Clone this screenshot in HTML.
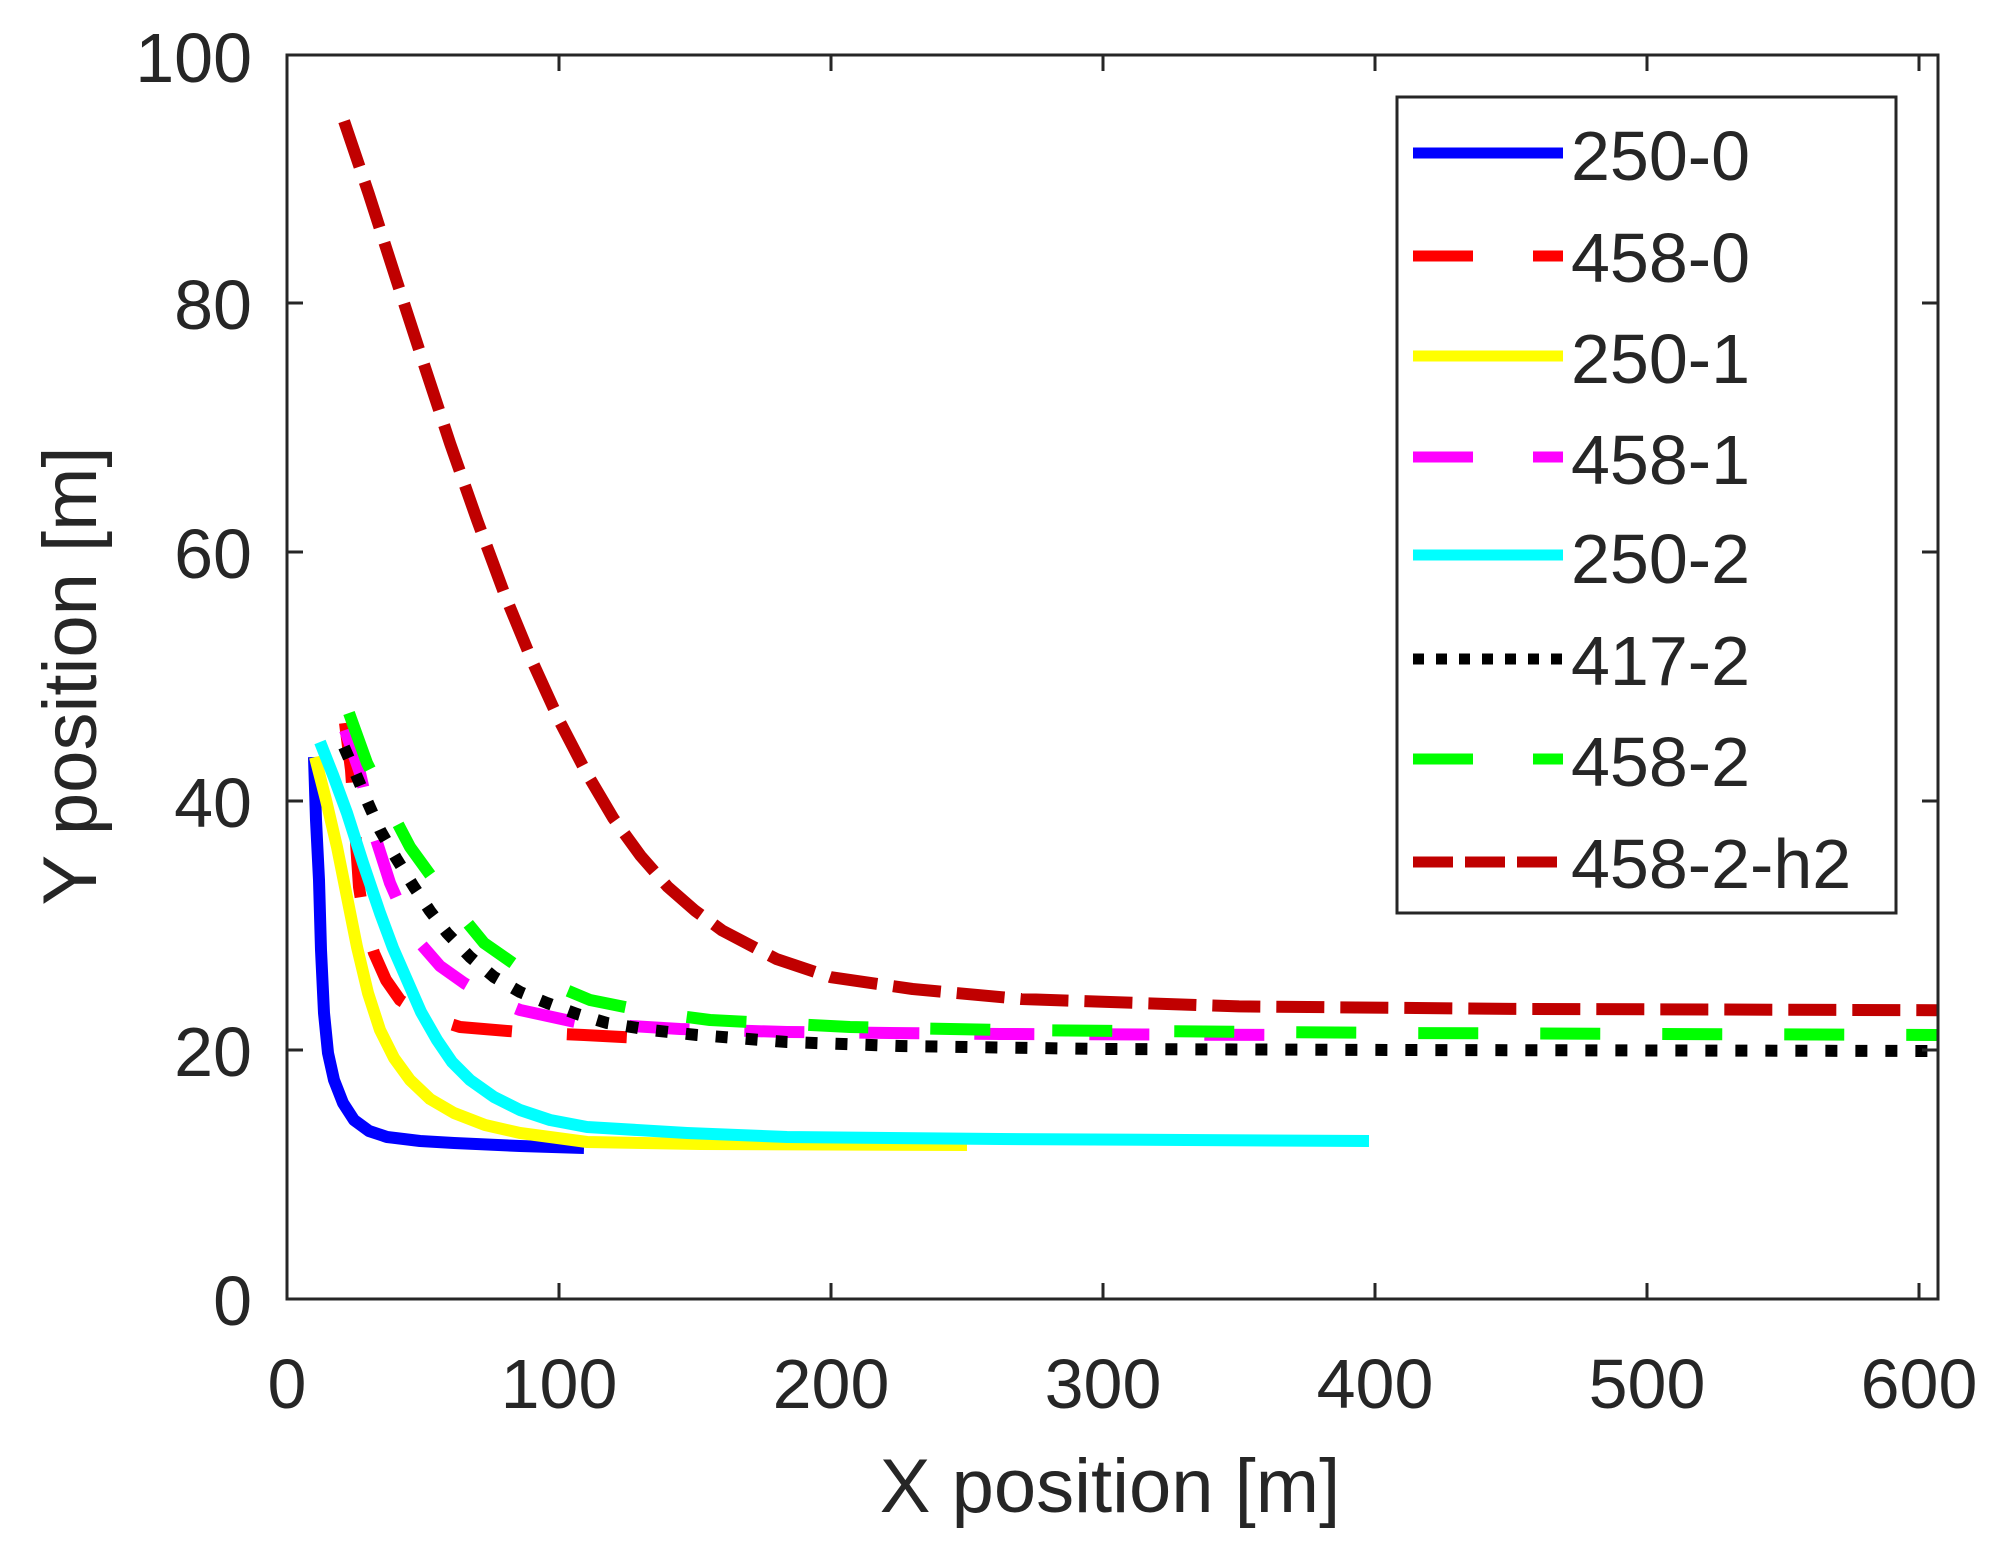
<!DOCTYPE html>
<html><head><style>
html,body{margin:0;padding:0;background:#fff;}
svg{display:block;}
text{font-family:"Liberation Sans",Arial,sans-serif;fill:#262626;}
</style></head><body>
<svg width="2000" height="1556" viewBox="0 0 2000 1556" xmlns="http://www.w3.org/2000/svg">
<defs><clipPath id="c"><rect x="287" y="55" width="1651" height="1244"/></clipPath></defs>
<rect width="2000" height="1556" fill="#fff"/>
<g clip-path="url(#c)" fill="none" stroke-width="12" stroke-linejoin="round">
<polyline stroke="#0000ff" points="314,757 316,820 319,880 321,950 324,1013 328,1053 334,1080 343,1103 354,1120 369,1131 387,1137 420,1141 454,1143 520,1146 584,1148"/>
<polyline stroke="#ff0000" stroke-dasharray="60,55" points="345,723 351,770 354,813 359,887 365,925 374,953 386,980 400,1000 425,1016 460,1027 520,1032 584,1035 640,1038"/>
<polyline stroke="#ffff00" points="315,757 326,800 337,847 357,947 368,993 380,1030 394,1058 410,1080 430,1099 454,1113 485,1125 520,1133 587,1142 700,1144 967,1145"/>
<polyline stroke="#ff00ff" stroke-dasharray="60,55" points="345,730 360,773 374,833 390,883 404,915 420,943 440,966 464,983 490,998 520,1010 580,1023 680,1029 787,1032 1000,1034 1293,1035"/>
<polyline stroke="#00ffff" points="320,742 333,775 347,813 363,863 380,913 393,948 407,980 421,1012 437,1040 452,1062 470,1080 494,1097 520,1110 550,1120 587,1127 687,1133 787,1137 1000,1139 1369,1141"/>
<polyline stroke="#000000" stroke-dasharray="12,18" points="344,747 357,777 368,803 380,830 396,858 414,887 430,911 447,933 470,957 494,977 520,992 547,1003 577,1014 607,1023 650,1030 697,1035 787,1042 900,1046 1100,1049 1400,1050 1938,1051"/>
<polyline stroke="#00ff00" stroke-dasharray="60,62" points="349,713 367,763 388,805 410,847 447,898 484,943 530,975 590,1000 650,1012 710,1020 850,1027 1000,1030 1400,1033 1938,1035"/>
<polyline stroke="#c00000" stroke-dasharray="48,16" points="344.1,121.2 368.6,193.4 395.8,278.1 423,361.5 450.2,443.7 477.4,520.9 504.6,594.3 531.8,660.3 559,720.1 586.2,772.4 613.4,818.4 640.6,855.8 667.8,886.9 695,910.6 722.2,930.5 776.6,959.1 831,977.2 912.6,989 1021.4,999 1239,1006.4 1511,1008.9 1938,1010.2"/>
</g>
<g stroke="#262626" stroke-width="3" fill="none">
<rect x="287" y="55" width="1651" height="1244"/>
<path d="M559,1299v-16M831,1299v-16M1103,1299v-16M1375,1299v-16M1647,1299v-16M1919,1299v-16
M559,55v16M831,55v16M1103,55v16M1375,55v16M1647,55v16M1919,55v16
M287,1050h16M287,801h16M287,552h16M287,303h16
M1938,1050h-16M1938,801h-16M1938,552h-16M1938,303h-16"/>
</g>
<g font-size="70" text-anchor="middle">
<text x="287" y="1408">0</text><text x="559" y="1408">100</text><text x="831" y="1408">200</text>
<text x="1103" y="1408">300</text><text x="1375" y="1408">400</text><text x="1647" y="1408">500</text><text x="1919" y="1408">600</text>
</g>
<g font-size="70" text-anchor="end">
<text x="252" y="1325">0</text><text x="252" y="1076">20</text><text x="252" y="827">40</text>
<text x="252" y="578">60</text><text x="252" y="329">80</text><text x="252" y="82">100</text>
</g>
<text x="1110" y="1512" font-size="76" text-anchor="middle">X position [m]</text>
<text transform="translate(96,676) rotate(-90)" font-size="76" text-anchor="middle">Y position [m]</text>
<rect x="1397" y="97" width="499" height="816" fill="#fff" stroke="#262626" stroke-width="3"/>
<g fill="none" stroke-width="11">
<line x1="1413" y1="153" x2="1563" y2="153" stroke="#0000ff"/>
<line x1="1413" y1="256" x2="1563" y2="256" stroke="#ff0000" stroke-dasharray="60,60"/>
<line x1="1413" y1="356" x2="1563" y2="356" stroke="#ffff00"/>
<line x1="1413" y1="457" x2="1563" y2="457" stroke="#ff00ff" stroke-dasharray="60,60"/>
<line x1="1413" y1="555" x2="1563" y2="555" stroke="#00ffff"/>
<line x1="1413" y1="659" x2="1563" y2="659" stroke="#000000" stroke-dasharray="11,12"/>
<line x1="1413" y1="759" x2="1563" y2="759" stroke="#00ff00" stroke-dasharray="60,60"/>
<line x1="1413" y1="862" x2="1563" y2="862" stroke="#c00000" stroke-dasharray="40,12"/>
</g>
<g font-size="70">
<text x="1571" y="180">250-0</text>
<text x="1571" y="282">458-0</text>
<text x="1571" y="383">250-1</text>
<text x="1571" y="484">458-1</text>
<text x="1571" y="583">250-2</text>
<text x="1571" y="685">417-2</text>
<text x="1571" y="786">458-2</text>
<text x="1571" y="888">458-2-h2</text>
</g>
</svg>
</body></html>
